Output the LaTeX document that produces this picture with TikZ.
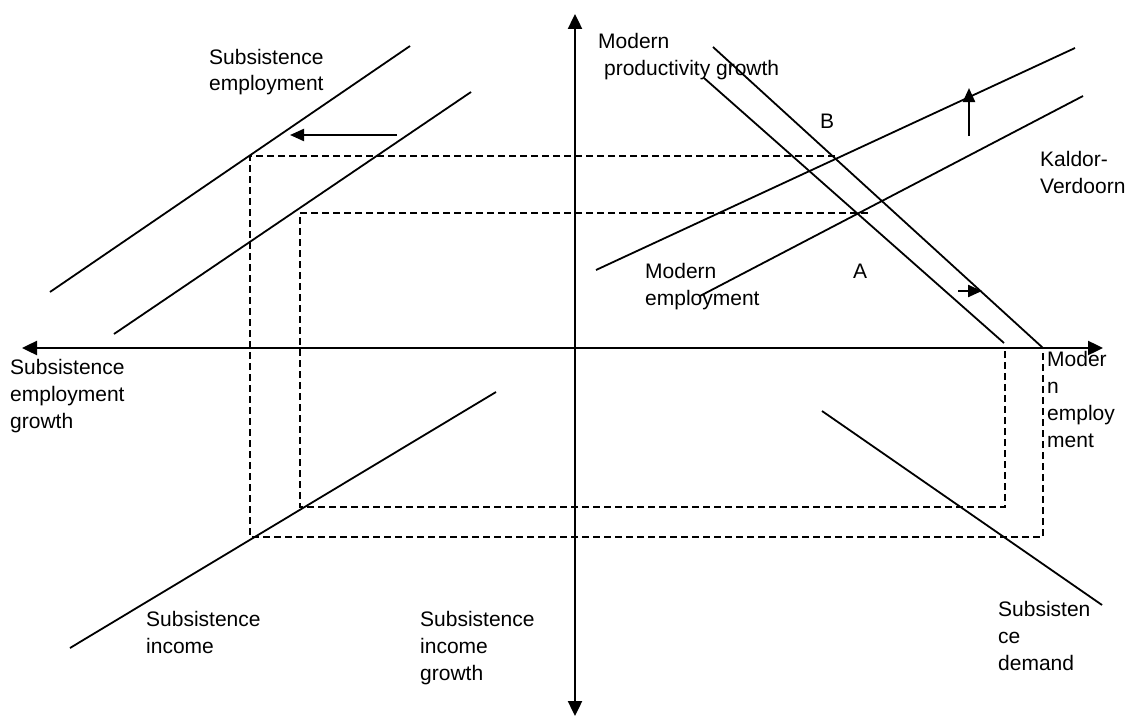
\documentclass[tikz,border=0pt]{standalone}
\usepackage{fontspec}
\setmainfont{Liberation Sans}
\usetikzlibrary{arrows.meta}
\begin{document}
\begin{tikzpicture}[x=1pt,y=-1pt,
  axis/.style={line width=2.4pt,{Triangle[length=15pt,width=14pt]}-{Triangle[length=15pt,width=14pt]}},
  curve/.style={line width=1.8pt},
  guide/.style={line width=1.3pt,dash pattern=on 7pt off 4pt},
  shiftarrow/.style={line width=2.2pt,-{Triangle[length=14pt,width=12pt]}},
  lab/.style={anchor=base west,inner sep=0pt,align=left,font=\fontsize{21}{27}\selectfont}]
\useasboundingbox (0,0) rectangle (1130,717);
% axis end points
\coordinate (axT) at (575,14);
\coordinate (axB) at (575,716);
\coordinate (axL) at (22,348);
\coordinate (axR) at (1103,348);
% dashed guides
\coordinate (o1) at (835,156);
\coordinate (o2) at (250,156);
\coordinate (o3) at (250,537);
\coordinate (o4) at (1043,537);
\coordinate (o5) at (1043,348);
\coordinate (i1) at (868,213);
\coordinate (i2) at (300,213);
\coordinate (i3) at (300,507);
\coordinate (i4) at (1005,507);
\coordinate (i5) at (1005,348);
\draw[guide] (o1) -- (o2) -- (o3) -- (o4) -- (o5);
\draw[guide] (i1) -- (i2) -- (i3) -- (i4) -- (i5);
% axes
\draw[axis] (axT) -- (axB);
\draw[axis] (axL) -- (axR);
% subsistence employment lines
\coordinate (se1a) at (50,292);
\coordinate (se1b) at (410,46);
\coordinate (se2a) at (114,334);
\coordinate (se2b) at (471,92);
\draw[curve] (se1a) -- (se1b);
\draw[curve] (se2a) -- (se2b);
\coordinate (sha) at (397,135);
\coordinate (shb) at (290,135);
\draw[shiftarrow] (sha) -- (shb);
% modern productivity lines
\coordinate (mp1a) at (704,78);
\coordinate (mp1b) at (1004,343);
\coordinate (mp2a) at (713,47);
\coordinate (mp2b) at (1043,348);
\draw[curve] (mp1a) -- (mp1b);
\draw[curve] (mp2a) -- (mp2b);
\coordinate (mpsa) at (958,291);
\coordinate (mpsb) at (982,291);
\draw[shiftarrow] (mpsa) -- (mpsb);
% Kaldor-Verdoorn lines
\coordinate (kv1a) at (596,270);
\coordinate (kv1b) at (1075,48);
\coordinate (kv2a) at (700,296);
\coordinate (kv2b) at (1083,96);
\draw[curve] (kv1a) -- (kv1b);
\draw[curve] (kv2a) -- (kv2b);
\coordinate (kvsa) at (969,136);
\coordinate (kvsb) at (969,88);
\draw[shiftarrow] (kvsa) -- (kvsb);
% subsistence income and demand
\coordinate (sia) at (70,648);
\coordinate (sib) at (496,392);
\draw[curve] (sia) -- (sib);
\coordinate (sda) at (822,411);
\coordinate (sdb) at (1102,605);
\draw[curve] (sda) -- (sdb);
% labels (anchor = baseline of the last line)
\node[lab] (lse) at (209,91) {Subsistence\\employment};
\node[lab] (lmp) at (598,75) {Modern\\\hspace*{0.28em}productivity growth};
\node[lab] (lb) at (820,128) {B};
\node[lab] (la) at (853,278) {A};
\node[lab] (lkv) at (1040,193) {Kaldor-\\Verdoorn};
\node[lab] (lme) at (645,305) {Modern\\employment};
\node[lab] (lseg) at (10,428) {Subsistence\\employment\\growth};
\node[lab] (lmemp) at (1047,447) {Moder\\n\\employ\\ment};
\node[lab] (lsi) at (146,653) {Subsistence\\income};
\node[lab] (lsig) at (420,680) {Subsistence\\income\\growth};
\node[lab] (lsd) at (998,670) {Subsisten\\ce\\demand};
\end{tikzpicture}
\end{document}
